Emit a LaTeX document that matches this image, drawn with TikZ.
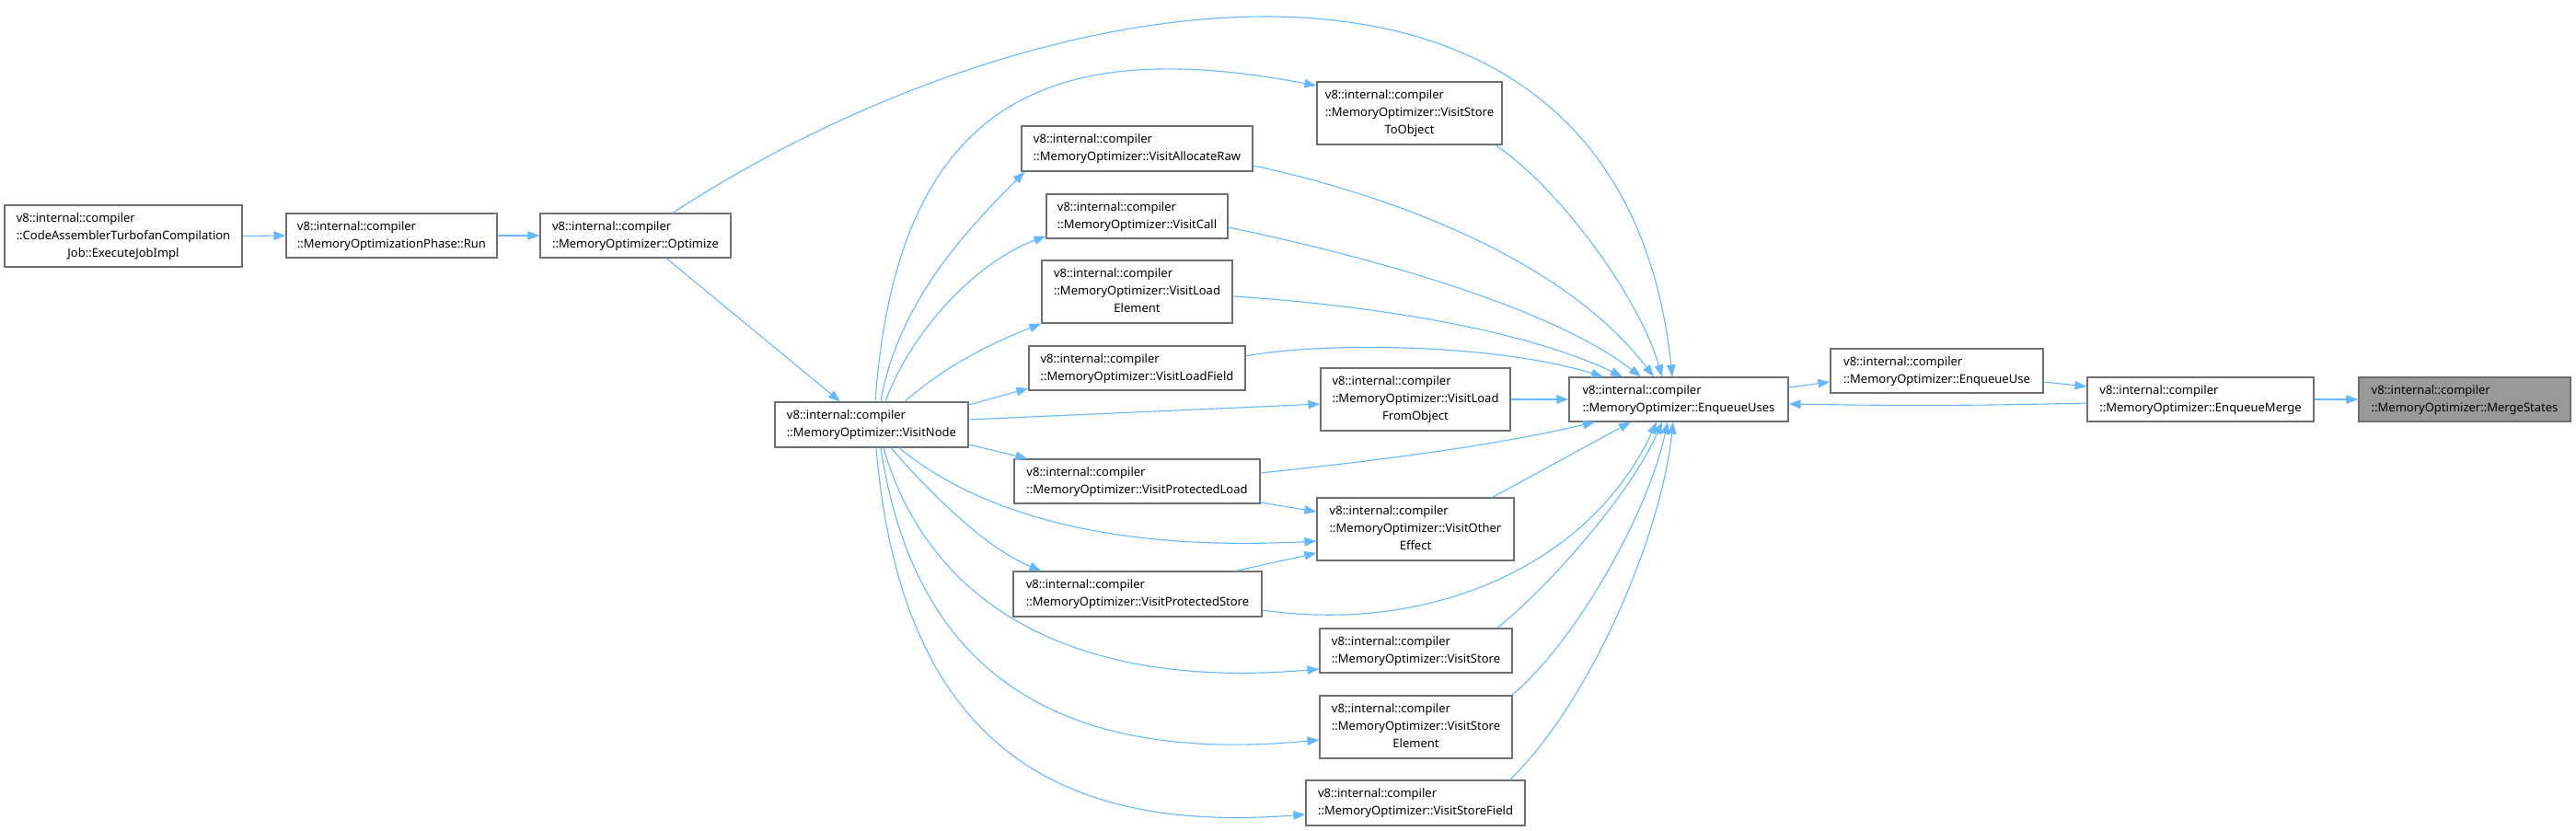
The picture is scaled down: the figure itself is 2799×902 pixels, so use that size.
\documentclass[tikz,border=0pt]{standalone}
\usepackage{fontspec}
\setmainfont{Noto Sans}
\usetikzlibrary{arrows.meta,calc}
\definecolor{edgeblue}{HTML}{63B8FF}
\definecolor{boxgray}{HTML}{707070}
\definecolor{hlgray}{HTML}{999999}
\newcommand{\twol}[1]{\begin{tabular}{@{}l@{}}v8::internal::compiler\\#1\end{tabular}}
\newcommand{\threel}[2]{\begin{tabular}{@{}l@{}}v8::internal::compiler\\#1\\\multicolumn{1}{@{}c@{}}{#2}\end{tabular}}
\begin{document}
\begin{tikzpicture}[x=1pt,y=-1pt,
  fn/.style={draw=boxgray, line width=1.2pt, fill=white, inner sep=0pt,
    font=\fontsize{13}{19}\selectfont},
  conn/.style={draw=edgeblue, line width=1.1pt, -{Triangle[length=13pt,width=9.5pt]}}]
\useasboundingbox (0,0) rectangle (2799,902);
% nodes
\node[fn, minimum width=258pt, minimum height=67pt] (exec) at (134,256.5) {\threel{::CodeAssemblerTurbofanCompilation}{Job::ExecuteJobImpl}};
\node[fn, minimum width=229pt, minimum height=48pt] (run) at (425.5,256) {\twol{::MemoryOptimizationPhase::Run}};
\node[fn, minimum width=207pt, minimum height=48pt] (opt) at (690.5,256) {\twol{::MemoryOptimizer::Optimize}};
\node[fn, minimum width=210pt, minimum height=49pt] (vn) at (947,461.5) {\twol{::MemoryOptimizer::VisitNode}};
\node[fn, minimum width=201pt, minimum height=68pt] (sto) at (1531.5,123) {\threel{::MemoryOptimizer::VisitStore}{ToObject}};
\node[fn, minimum width=251pt, minimum height=49pt] (ar) at (1235.5,161.5) {\twol{::MemoryOptimizer::VisitAllocateRaw}};
\node[fn, minimum width=197pt, minimum height=48pt] (call) at (1235.5,235) {\twol{::MemoryOptimizer::VisitCall}};
\node[fn, minimum width=207pt, minimum height=68pt] (le) at (1235.5,317) {\threel{::MemoryOptimizer::VisitLoad}{Element}};
\node[fn, minimum width=235pt, minimum height=48pt] (lf) at (1235.5,400) {\twol{::MemoryOptimizer::VisitLoadField}};
\node[fn, minimum width=206pt, minimum height=68pt] (lfo) at (1538,434) {\threel{::MemoryOptimizer::VisitLoad}{FromObject}};
\node[fn, minimum width=267pt, minimum height=48pt] (pl) at (1235.5,523) {\twol{::MemoryOptimizer::VisitProtectedLoad}};
\node[fn, minimum width=214pt, minimum height=68pt] (oe) at (1538,575) {\threel{::MemoryOptimizer::VisitOther}{Effect}};
\node[fn, minimum width=270pt, minimum height=49pt] (ps) at (1236,645.5) {\twol{::MemoryOptimizer::VisitProtectedStore}};
\node[fn, minimum width=209pt, minimum height=48pt] (st) at (1538.5,707) {\twol{::MemoryOptimizer::VisitStore}};
\node[fn, minimum width=209pt, minimum height=68pt] (se) at (1538.5,790) {\threel{::MemoryOptimizer::VisitStore}{Element}};
\node[fn, minimum width=238pt, minimum height=49pt] (sf) at (1538,872.5) {\twol{::MemoryOptimizer::VisitStoreField}};
\node[fn, minimum width=238pt, minimum height=48pt] (eu) at (1824,434) {\twol{::MemoryOptimizer::EnqueueUses}};
\node[fn, minimum width=231pt, minimum height=48pt] (eus) at (2104.5,403) {\twol{::MemoryOptimizer::EnqueueUse}};
\node[fn, minimum width=246pt, minimum height=48pt] (em) at (2391,434) {\twol{::MemoryOptimizer::EnqueueMerge}};
\node[fn, fill=hlgray, minimum width=230pt, minimum height=48pt] (ms) at (2678,434) {\twol{::MemoryOptimizer::MergeStates}};
% left chain
\draw[conn] (exec.east) -- (run.west);
\draw[conn] (run.east) -- (opt.west);
\draw[conn] ($(opt.south)+(33.5,0)$) -- ($(vn.north)+(-34,0)$);
\draw[conn] ($(opt.north)+(40.5,0)$) .. controls (1130,-30) and (1760,-130) .. ($(eu.north)+(-7,0)$);
% VisitNode out-edges
\draw[conn] ($(vn.north)+(4,0)$) .. controls (975,100) and (1150,40) .. ($(sto.west)+(0,-30)$);
\draw[conn] ($(vn.north)+(10,0)$) .. controls (975,330) and (1050,250) .. ($(ar.south west)+(4,0)$);
\draw[conn] ($(vn.north)+(15,0)$) .. controls (990,360) and (1060,285) .. ($(call.south west)+(0,-3)$);
\draw[conn] ($(vn.north)+(36,0)$) .. controls (1030,395) and (1080,372) .. (le.south west);
\draw[conn] ($(vn.east)+(0,-21.5)$) -- ($(lf.west)+(0,22)$);
\draw[conn] ($(vn.east)+(0,-5.5)$) -- ($(lfo.west)+(0,5)$);
\draw[conn] ($(vn.east)+(0,21.5)$) -- ($(pl.north west)+(15,0)$);
\draw[conn] ($(vn.south)+(30,0)$) .. controls (1060,555) and (1200,600) .. ($(oe.west)+(0,13)$);
\draw[conn] ($(vn.south)+(21,0)$) .. controls (1010,535) and (1070,595) .. ($(ps.north west)+(31,0)$);
\draw[conn] ($(vn.south)+(13,0)$) .. controls (1010,660) and (1170,750) .. ($(st.west)+(0,20)$);
\draw[conn] ($(vn.south)+(10,0)$) .. controls (995,740) and (1160,830) .. ($(se.west)+(0,14)$);
\draw[conn] ($(vn.south)+(5,0)$) .. controls (980,820) and (1160,905) .. ($(sf.west)+(0,12.5)$);
% into VisitOtherEffect
\draw[conn] ($(pl.east)+(0,23)$) -- ($(oe.west)+(0,-19)$);
\draw[conn] ($(ps.north east)+(-29,0)$) -- ($(oe.west)+(0,26)$);
% into EnqueueUses
\draw[conn] ($(sto.south east)+(-8,0)$) .. controls (1690,200) and (1780,320) .. ($(eu.north)+(-18,0)$);
\draw[conn] ($(ar.east)+(0,18.5)$) .. controls (1480,205) and (1690,270) .. ($(eu.north)+(-27,0)$);
\draw[conn] ($(call.east)+(0,12)$) .. controls (1470,275) and (1680,330) .. ($(eu.north)+(-41,0)$);
\draw[conn] ($(le.east)+(0,5)$) .. controls (1470,330) and (1650,355) .. ($(eu.north)+(-61,0)$);
\draw[conn] ($(lf.east)+(0,-13)$) .. controls (1430,372) and (1620,372) .. ($(eu.north)+(-82,0)$);
\draw[conn] (lfo.east) -- (eu.west);
\draw[conn] ($(pl.east)+(0,-9)$) .. controls (1500,500) and (1620,485) .. ($(eu.south)+(-91,0)$);
\draw[conn] ($(oe.north east)+(-24,0)$) -- ($(eu.south)+(-52,0)$);
\draw[conn] ($(ps.east)+(0,17.5)$) .. controls (1560,690) and (1730,610) .. ($(eu.south)+(-24,0)$);
\draw[conn] ($(st.north east)+(-17,0)$) .. controls (1680,640) and (1770,540) .. ($(eu.south)+(-18,0)$);
\draw[conn] ($(se.north east)+(-1,0)$) .. controls (1710,700) and (1790,560) .. ($(eu.south)+(-12,0)$);
\draw[conn] ($(sf.north east)+(-17,0)$) .. controls (1730,760) and (1805,580) .. ($(eu.south)+(-6,0)$);
% right chain
\draw[conn] ($(eu.east)+(0,-13)$) -- ($(eus.west)+(0,12)$);
\draw[conn] ($(eus.east)+(0,12)$) -- ($(em.west)+(0,-14)$);
\draw[conn] ($(em.west)+(0,4)$) .. controls (2150,441) and (2060,441) .. ($(eu.east)+(0,5)$);
\draw[conn] (em.east) -- (ms.west);
\end{tikzpicture}
\end{document}
